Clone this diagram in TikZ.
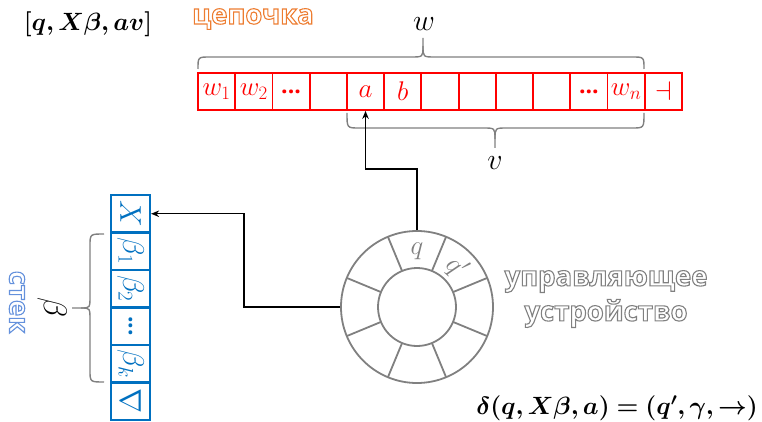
\RequirePackage{fix-cm}
\documentclass[tikz,border=0pt]{standalone}
\usepackage{fontspec}
\usepackage{amsmath,bm}
\newfontfamily\ru{Open Sans}
\usetikzlibrary{arrows.meta,calc}
\definecolor{tapered}{RGB}{255,0,0}
\definecolor{stackblue}{RGB}{0,112,192}
\definecolor{braceg}{RGB}{128,128,128}
\definecolor{orng}{RGB}{237,125,49}
\definecolor{lblue}{RGB}{100,145,220}
\definecolor{ringg}{RGB}{128,128,128}
\newcommand\hollow[2]{\textcolor{#1}{\special{pdf:literal direct 1 Tr 1.1 w}#2\special{pdf:literal direct 0 Tr}}}
\newcommand\tdots{{\ru\bfseries\fontsize{23}{28}\selectfont ...}}
\tikzset{
  tapecell/.style={draw=tapered, line width=1.8pt, minimum width=37.2pt, minimum height=37pt, inner sep=0pt, text=tapered, font=\fontsize{27}{31}\selectfont},
  stackcell/.style={draw=stackblue, line width=2.2pt, minimum width=39pt, minimum height=37.5pt, inner sep=0pt},
  stacklbl/.style={text=stackblue, rotate=-90, inner sep=0pt, font=\fontsize{30}{34}\selectfont},
  bracepath/.style={draw=braceg, line width=1.4pt},
  ring/.style={draw=ringg, line width=1.8pt, circle, inner sep=0pt},
  arr/.style={draw=black, line width=1.4pt, -{Stealth[length=8pt,width=6.5pt]}},
  biglbl/.style={font=\fontsize{25}{29}\selectfont, inner sep=0pt},
  varlbl/.style={font=\fontsize{30}{34}\selectfont, inner sep=0pt},
  qlbl/.style={text=ringg, font=\fontsize{27}{31}\selectfont, inner sep=0pt},
  rulbl/.style={font=\ru\bfseries\fontsize{27.5}{35}\selectfont, inner sep=0pt}
}
\begin{document}
\begin{tikzpicture}[x=1pt,y=-1pt]
\useasboundingbox (0,0) rectangle (762,422);
% headline
\node[biglbl] (state) at (88,24) {$\bm{[q, X\beta, av]}$};
\node[rulbl] (chain) at (253,19) {\hollow{orng}{цепочка}};
% tape
\foreach \lab [count=\i from 0] in {$w_1$,$w_2$,\tdots,{},$a$,$b$,{},{},{},{},\tdots,$w_n$,$\dashv$}
  \node[tapecell] (t\i) at ({198+37.23*\i+18.6},91.5) {\lab};
% brace w
\draw[bracepath] (198,69) .. controls (198,57) .. (210,57) -- (411,57) .. controls (423,57) .. (423,46) -- (423,38);
\draw[bracepath] (423,46) .. controls (423,57) .. (435,57) -- (632,57) .. controls (644,57) .. (644,69);
\node[varlbl] (wlbl) at (424,24) {$w$};
% brace v
\draw[bracepath] (347,113) .. controls (347,128) .. (359,128) -- (483,128) .. controls (495,128) .. (495,139) -- (495,148);
\draw[bracepath] (495,139) .. controls (495,128) .. (507,128) -- (632,128) .. controls (644,128) .. (644,113);
\node[varlbl] (vlbl) at (495,163) {$v$};
% stack
\foreach \lab [count=\i from 0] in {$X$,$\beta_1$,$\beta_2$,\tdots,$\beta_k$,$\nabla$}{
  \node[stackcell] (s\i) at (130.5,{213.75+37.5*\i}) {};
  \node[stacklbl] (sl\i) at (s\i) {\lab};
}
% brace beta
\draw[bracepath] (104,234) .. controls (90,234) .. (90,246) -- (90,296) .. controls (90,308) .. (81,308) -- (72,308);
\draw[bracepath] (81,308) .. controls (90,308) .. (90,320) -- (90,370) .. controls (90,382) .. (104,382);
\node[varlbl, rotate=-90, font=\fontsize{33}{37}\selectfont] (blbl) at (52,308) {$\beta$};
\node[rulbl, rotate=-90] (stek) at (17,302) {\hollow{lblue}{стек}};
% control unit
\node[ring, minimum size=152pt] (ctrl) at (417,307) {};
\node[ring, minimum size=78pt] (inner) at (417,307) {};
\foreach \a in {22.5,67.5,...,337.5}
  \draw[draw=ringg, line width=1.8pt] ($(inner.center)+(\a:39)$) -- ($(inner.center)+(\a:76)$);
\node[qlbl] (qlb) at ($(ctrl.center)+(-90:56)$) {$q$};
\node[qlbl, rotate=-42] (qplb) at ($(ctrl.center)+(-45:56)$) {$q'$};
\node[rulbl, align=center] (cu) at (606,299) {\hollow{ringg}{управляющее}\\\hollow{ringg}{устройство}};
% connectors
\draw[arr] (ctrl.north) -- ++(0,-61) -| (t4.south);
\draw[arr] (ctrl.west) -- ++(-96,0) |- (s0.east);
% formula
\node[biglbl] (delta) at (617,408) {$\bm{\delta(q, X\beta, a) = (q', \gamma, \rightarrow)}$};
\end{tikzpicture}
\end{document}
